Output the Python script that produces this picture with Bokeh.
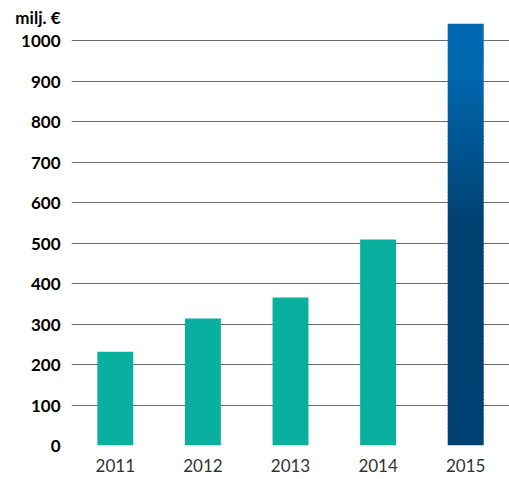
import numpy as np
from bokeh.plotting import figure
from bokeh.models import Range1d, FixedTicker, SingleIntervalTicker, FactorRange
from bokeh.embed import file_html
from bokeh.resources import INLINE

years = ["2011", "2012", "2013", "2014", "2015"]
values = [232, 314, 366, 509, 1040]
bar_colors = ["#09b09f", "#09b09f", "#09b09f", "#09b09f", None]
y_ticks = [0, 100, 200, 300, 400, 500, 600, 700, 800, 900, 1000]
unit_label = "milj. €"
unit_label_pos = 1057

# gradient stops for the highlighted (last) bar: (fraction of bar height, color)
grad_stops = [(0.0, (0x00, 0x42, 0x74)), (0.52, (0x00, 0x40, 0x70)),
              (0.87, (0x00, 0x66, 0xad)), (1.0, (0x00, 0x69, 0xb2))]

p = figure(x_range=FactorRange(*years, range_padding=0), y_range=Range1d(0, 1080),
           width=509, height=479, output_backend="svg", toolbar_location=None,
           min_border_left=71, min_border_right=0, min_border_top=8, min_border_bottom=34)
p.outline_line_color = None
p.background_fill_color = "white"

nx = [y for y, c in zip(years, bar_colors) if c]
nv = [v for v, c in zip(values, bar_colors) if c]
p.vbar(x=nx, top=nv, bottom=0, width=0.41, fill_color="#09b09f", line_color=None)

gx = [y for y, c in zip(years, bar_colors) if c is None][0]
gv = [v for v, c in zip(values, bar_colors) if c is None][0]
N = 120
edges = np.linspace(0, gv, N + 1)
fr = (edges[:-1] + edges[1:]) / 2 / gv
sf = [s[0] for s in grad_stops]
cols = []
for f in fr:
    r = np.interp(f, sf, [s[1][0] for s in grad_stops])
    g = np.interp(f, sf, [s[1][1] for s in grad_stops])
    b = np.interp(f, sf, [s[1][2] for s in grad_stops])
    cols.append("#%02x%02x%02x" % (int(r), int(g), int(b)))
p.vbar(x=[gx] * N, bottom=edges[:-1], top=edges[1:] + gv * 0.002, width=0.41,
       fill_color=cols, line_color=None)

p.xgrid.grid_line_color = None
p.ygrid.grid_line_color = "#6a6a6a"
p.ygrid.grid_line_width = 1
p.ygrid.level = "underlay"
p.ygrid.ticker = FixedTicker(ticks=y_ticks)
p.yaxis.ticker = FixedTicker(ticks=y_ticks + [unit_label_pos])
p.yaxis.major_label_overrides = {unit_label_pos: unit_label}

for ax in (p.xaxis, p.yaxis):
    ax.axis_line_color = None
    ax.major_tick_line_color = None
    ax.minor_tick_line_color = None
    ax.major_tick_out = 0
    ax.major_tick_in = 0

p.yaxis.major_label_text_font = "Lato"
p.yaxis.major_label_text_font_style = "bold"
p.yaxis.major_label_text_font_size = "17px"
p.yaxis.major_label_text_color = "#000000"
p.yaxis.major_label_standoff = 11

p.xaxis.major_label_text_font = "Lato"
p.xaxis.major_label_text_font_size = "17px"
p.xaxis.major_label_text_color = "#333333"
p.xaxis.major_label_standoff = 13

open("out.html", "w").write(file_html(p, INLINE))
